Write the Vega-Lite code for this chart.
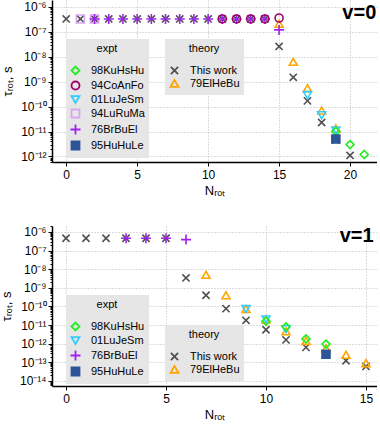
{
"$schema": "https://vega.github.io/schema/vega-lite/v6.json",
"padding": {"left": 0, "top": 0, "right": 0, "bottom": 0},
"spacing": 28,
"config": {
  "font": "Liberation Sans",
  "view": {"stroke": null},
  "axis": {"labelFont": "Liberation Sans", "labelFontSize": 12, "titleFont": "Liberation Sans", "titleFontSize": 13, "titleFontWeight": "normal", "domainColor": "#000000", "domainWidth": 1.5, "tickColor": "#000000", "gridColor": "#bbbbbb", "gridDash": [1, 2], "labelColor": "#000000", "titleColor": "#000000"},
  "legend": {"orient": "none", "fillColor": "#e6e6e6", "padding": 4, "titleFont": "Liberation Sans", "labelFont": "Liberation Sans", "titleFontWeight": "normal", "titleFontSize": 11, "titleAnchor": "middle", "titlePadding": 11, "labelFontSize": 11, "symbolStrokeWidth": 1.8, "symbolSize": 64, "rowPadding": -2, "labelOffset": 10, "titleColor": "#000000", "labelColor": "#000000"}
},
"datasets": {"d": [
{"v":0,"kind":"theory","src":"This work","N":0,"tau":3.3e-7},
{"v":0,"kind":"theory","src":"This work","N":1,"tau":3.3e-7},
{"v":0,"kind":"theory","src":"This work","N":2,"tau":3.3e-7},
{"v":0,"kind":"theory","src":"This work","N":3,"tau":3.3e-7},
{"v":0,"kind":"theory","src":"This work","N":4,"tau":3.3e-7},
{"v":0,"kind":"theory","src":"This work","N":5,"tau":3.3e-7},
{"v":0,"kind":"theory","src":"This work","N":6,"tau":3.3e-7},
{"v":0,"kind":"theory","src":"This work","N":7,"tau":3.3e-7},
{"v":0,"kind":"theory","src":"This work","N":8,"tau":3.3e-7},
{"v":0,"kind":"theory","src":"This work","N":9,"tau":3.3e-7},
{"v":0,"kind":"theory","src":"This work","N":10,"tau":3.3e-7},
{"v":0,"kind":"theory","src":"This work","N":11,"tau":3.3e-7},
{"v":0,"kind":"theory","src":"This work","N":12,"tau":3.3e-7},
{"v":0,"kind":"theory","src":"This work","N":13,"tau":3.3e-7},
{"v":0,"kind":"theory","src":"This work","N":14,"tau":3.3e-7},
{"v":0,"kind":"theory","src":"This work","N":15,"tau":2.6e-8},
{"v":0,"kind":"theory","src":"This work","N":16,"tau":1.5e-9},
{"v":0,"kind":"theory","src":"This work","N":17,"tau":1.7e-10},
{"v":0,"kind":"theory","src":"This work","N":18,"tau":2.3e-11},
{"v":0,"kind":"theory","src":"This work","N":19,"tau":4.5e-12},
{"v":0,"kind":"theory","src":"This work","N":20,"tau":1.1e-12},
{"v":0,"kind":"theory","src":"79ElHeBu","N":15,"tau":2.1e-7},
{"v":0,"kind":"theory","src":"79ElHeBu","N":16,"tau":6.3e-9},
{"v":0,"kind":"theory","src":"79ElHeBu","N":17,"tau":5.5e-10},
{"v":0,"kind":"theory","src":"79ElHeBu","N":18,"tau":7e-11},
{"v":0,"kind":"theory","src":"79ElHeBu","N":19,"tau":1.35e-11},
{"v":0,"kind":"expt","src":"94LuRuMa","N":1,"tau":3.3e-7},
{"v":0,"kind":"expt","src":"94LuRuMa","N":2,"tau":3.3e-7},
{"v":0,"kind":"expt","src":"76BrBuEl","N":2,"tau":3.3e-7},
{"v":0,"kind":"expt","src":"76BrBuEl","N":3,"tau":3.3e-7},
{"v":0,"kind":"expt","src":"76BrBuEl","N":4,"tau":3.3e-7},
{"v":0,"kind":"expt","src":"76BrBuEl","N":5,"tau":3.3e-7},
{"v":0,"kind":"expt","src":"76BrBuEl","N":6,"tau":3.3e-7},
{"v":0,"kind":"expt","src":"76BrBuEl","N":7,"tau":3.3e-7},
{"v":0,"kind":"expt","src":"76BrBuEl","N":8,"tau":3.3e-7},
{"v":0,"kind":"expt","src":"76BrBuEl","N":9,"tau":3.3e-7},
{"v":0,"kind":"expt","src":"76BrBuEl","N":10,"tau":3.3e-7},
{"v":0,"kind":"expt","src":"76BrBuEl","N":11,"tau":3.3e-7},
{"v":0,"kind":"expt","src":"76BrBuEl","N":12,"tau":3.3e-7},
{"v":0,"kind":"expt","src":"76BrBuEl","N":13,"tau":3.3e-7},
{"v":0,"kind":"expt","src":"76BrBuEl","N":14,"tau":3.3e-7},
{"v":0,"kind":"expt","src":"76BrBuEl","N":15,"tau":1.2e-7},
{"v":0,"kind":"expt","src":"94CoAnFo","N":11,"tau":3.3e-7},
{"v":0,"kind":"expt","src":"94CoAnFo","N":12,"tau":3.3e-7},
{"v":0,"kind":"expt","src":"94CoAnFo","N":13,"tau":3.3e-7},
{"v":0,"kind":"expt","src":"94CoAnFo","N":14,"tau":3.3e-7},
{"v":0,"kind":"expt","src":"94CoAnFo","N":15,"tau":3.6e-7},
{"v":0,"kind":"expt","src":"01LuJeSm","N":17,"tau":2.9e-10},
{"v":0,"kind":"expt","src":"01LuJeSm","N":18,"tau":4.5e-11},
{"v":0,"kind":"expt","src":"01LuJeSm","N":19,"tau":1.1e-11},
{"v":0,"kind":"expt","src":"98KuHsHu","N":19,"tau":1e-11},
{"v":0,"kind":"expt","src":"98KuHsHu","N":20,"tau":3e-12},
{"v":0,"kind":"expt","src":"98KuHsHu","N":21,"tau":1.2e-12},
{"v":0,"kind":"expt","src":"95HuHuLe","N":19,"tau":5e-12},
{"v":1,"kind":"theory","src":"This work","N":0,"tau":4.6e-7},
{"v":1,"kind":"theory","src":"This work","N":1,"tau":4.6e-7},
{"v":1,"kind":"theory","src":"This work","N":2,"tau":4.6e-7},
{"v":1,"kind":"theory","src":"This work","N":3,"tau":4.6e-7},
{"v":1,"kind":"theory","src":"This work","N":4,"tau":4.6e-7},
{"v":1,"kind":"theory","src":"This work","N":5,"tau":4.6e-7},
{"v":1,"kind":"theory","src":"This work","N":6,"tau":3.4e-9},
{"v":1,"kind":"theory","src":"This work","N":7,"tau":4e-10},
{"v":1,"kind":"theory","src":"This work","N":8,"tau":7.6e-11},
{"v":1,"kind":"theory","src":"This work","N":9,"tau":1.8e-11},
{"v":1,"kind":"theory","src":"This work","N":10,"tau":5.6e-12},
{"v":1,"kind":"theory","src":"This work","N":11,"tau":1.6e-12},
{"v":1,"kind":"theory","src":"This work","N":12,"tau":6.3e-13},
{"v":1,"kind":"theory","src":"This work","N":13,"tau":2.7e-13},
{"v":1,"kind":"theory","src":"This work","N":14,"tau":1.2e-13},
{"v":1,"kind":"theory","src":"This work","N":15,"tau":6e-14},
{"v":1,"kind":"theory","src":"79ElHeBu","N":7,"tau":5e-9},
{"v":1,"kind":"theory","src":"79ElHeBu","N":8,"tau":4e-10},
{"v":1,"kind":"theory","src":"79ElHeBu","N":9,"tau":7.3e-11},
{"v":1,"kind":"theory","src":"79ElHeBu","N":10,"tau":2e-11},
{"v":1,"kind":"theory","src":"79ElHeBu","N":11,"tau":4.6e-12},
{"v":1,"kind":"theory","src":"79ElHeBu","N":12,"tau":1.4e-12},
{"v":1,"kind":"theory","src":"79ElHeBu","N":13,"tau":5.7e-13},
{"v":1,"kind":"theory","src":"79ElHeBu","N":14,"tau":2.5e-13},
{"v":1,"kind":"theory","src":"79ElHeBu","N":15,"tau":9e-14},
{"v":1,"kind":"expt","src":"76BrBuEl","N":3,"tau":4.6e-7},
{"v":1,"kind":"expt","src":"76BrBuEl","N":4,"tau":4.6e-7},
{"v":1,"kind":"expt","src":"76BrBuEl","N":5,"tau":4.6e-7},
{"v":1,"kind":"expt","src":"76BrBuEl","N":6,"tau":3.9e-7},
{"v":1,"kind":"expt","src":"01LuJeSm","N":9,"tau":7.3e-11},
{"v":1,"kind":"expt","src":"01LuJeSm","N":10,"tau":2e-11},
{"v":1,"kind":"expt","src":"01LuJeSm","N":11,"tau":6e-12},
{"v":1,"kind":"expt","src":"98KuHsHu","N":10,"tau":1.6e-11},
{"v":1,"kind":"expt","src":"98KuHsHu","N":11,"tau":8e-12},
{"v":1,"kind":"expt","src":"98KuHsHu","N":12,"tau":1.8e-12},
{"v":1,"kind":"expt","src":"98KuHsHu","N":13,"tau":9.5e-13},
{"v":1,"kind":"expt","src":"95HuHuLe","N":13,"tau":2.7e-13}
]},
"vconcat": [
{
  "width": 325, "height": 162,
  "layer": [
    {
      "data": {"name": "d"},
      "transform": [{"filter": "datum.v == 0 && datum.kind == 'theory'"}],
      "mark": {"type": "point", "strokeWidth": 1.6, "size": 64, "opacity": 1},
      "encoding": {
        "x": {"field": "N", "type": "quantitative", "scale": {"domain": [-1, 21.9], "nice": false, "zero": false},
              "axis": {"values": [0, 5, 10, 15, 20], "grid": true, "tickSize": 4, "title": "Nᵣₒₜ", "labelPadding": 3, "titlePadding": 4}},
        "y": {"field": "tau", "type": "quantitative", "scale": {"type": "log", "domain": [6e-13, 1.9e-6], "nice": false},
              "axis": {"values": [6e-13,7e-13,8e-13,9e-13,1e-12,2e-12,3e-12,4e-12,5e-12,6e-12,7e-12,8e-12,9e-12,1e-11,2e-11,3e-11,4e-11,5e-11,6e-11,7e-11,8e-11,9e-11,1e-10,2e-10,3e-10,4e-10,5e-10,6e-10,7e-10,8e-10,9e-10,1e-9,2e-9,3e-9,4e-9,5e-9,6e-9,7e-9,8e-9,9e-9,1e-8,2e-8,3e-8,4e-8,5e-8,6e-8,7e-8,8e-8,9e-8,1e-7,2e-7,3e-7,4e-7,5e-7,6e-7,7e-7,8e-7,9e-7,1e-6],
                       "grid": true, "title": "τᵣₒₜ, s", "titlePadding": 6, "labelPadding": 2,
                       "labelExpr": "abs(log(datum.value)/LN10 - round(log(datum.value)/LN10)) > 0.001 ? '' : '10⁻' + (round(-log(datum.value)/LN10) >= 10 ? '¹' : '') + ['⁰','¹','²','³','⁴','⁵','⁶','⁷','⁸','⁹'][round(-log(datum.value)/LN10) % 10]",
                       "tickSize": {"condition": {"test": "abs(log(datum.value)/LN10 - round(log(datum.value)/LN10)) > 0.001", "value": 2}, "value": 4},
                       "gridOpacity": {"condition": {"test": "abs(log(datum.value)/LN10 - round(log(datum.value)/LN10)) > 0.001", "value": 0}, "value": 1}}},
        "stroke": {"field": "src", "type": "nominal", "scale": {"domain": ["This work", "79ElHeBu"], "range": ["#505050", "#ffa500"]},
                   "legend": {"title": "theory", "legendX": 113, "legendY": 39}},
        "shape": {"field": "src", "type": "nominal", "scale": {"domain": ["This work", "79ElHeBu"], "range": ["M-0.9,-0.9L0.9,0.9M-0.9,0.9L0.9,-0.9", "triangle-up"]},
                  "legend": {"title": "theory", "legendX": 113, "legendY": 39}}
      }
    },
    {
      "data": {"name": "d"},
      "transform": [{"filter": "datum.v == 0 && datum.kind == 'expt'"}],
      "mark": {"type": "point", "strokeWidth": 1.6, "size": 64, "opacity": 1},
      "encoding": {
        "x": {"field": "N", "type": "quantitative"},
        "y": {"field": "tau", "type": "quantitative"},
        "stroke": {"field": "src", "type": "nominal", "scale": {"domain": ["98KuHsHu", "94CoAnFo", "01LuJeSm", "94LuRuMa", "76BrBuEl", "95HuHuLe"], "range": ["#22ee22", "#a0006e", "#33ccff", "#d9a6f2", "#a020f0", "#2d5597"]},
                   "legend": {"title": "expt", "legendX": 14, "legendY": 39}},
        "fill": {"field": "src", "type": "nominal", "scale": {"domain": ["98KuHsHu", "94CoAnFo", "01LuJeSm", "94LuRuMa", "76BrBuEl", "95HuHuLe"], "range": ["transparent", "transparent", "transparent", "transparent", "transparent", "#2d5597"]},
                 "legend": {"title": "expt", "legendX": 14, "legendY": 39}},
        "shape": {"field": "src", "type": "nominal", "scale": {"domain": ["98KuHsHu", "94CoAnFo", "01LuJeSm", "94LuRuMa", "76BrBuEl", "95HuHuLe"], "range": ["diamond", "circle", "triangle-down", "square", "M-1.25,0L1.25,0M0,-1.25L0,1.25", "square"]},
                  "legend": {"title": "expt", "legendX": 14, "legendY": 39}}
      }
    },
    {
      "data": {"values": [{"t": "v=0"}]},
      "mark": {"type": "text", "align": "right", "baseline": "middle", "fontSize": 20, "fontWeight": "bold", "font": "Liberation Sans", "color": "#000000"},
      "encoding": {"x": {"datum": 21.85}, "y": {"datum": 5.7e-7}, "text": {"field": "t"}}
    }
  ],
  "resolve": {"scale": {"stroke": "independent", "shape": "independent", "fill": "independent"}}
},
{
  "width": 325, "height": 160,
  "layer": [
    {
      "data": {"name": "d"},
      "transform": [{"filter": "datum.v == 1 && datum.kind == 'theory'"}],
      "mark": {"type": "point", "strokeWidth": 1.6, "size": 64, "opacity": 1},
      "encoding": {
        "x": {"field": "N", "type": "quantitative", "scale": {"domain": [-0.7, 15.55], "nice": false, "zero": false},
              "axis": {"values": [0, 5, 10, 15], "grid": true, "tickSize": 4, "title": "Nᵣₒₜ", "labelPadding": 3, "titlePadding": 4}},
        "y": {"field": "tau", "type": "quantitative", "scale": {"type": "log", "domain": [5.3e-15, 2.1e-6], "nice": false},
              "axis": {"values": [6e-15,7e-15,8e-15,9e-15,1e-14,2e-14,3e-14,4e-14,5e-14,6e-14,7e-14,8e-14,9e-14,1e-13,2e-13,3e-13,4e-13,5e-13,6e-13,7e-13,8e-13,9e-13,1e-12,2e-12,3e-12,4e-12,5e-12,6e-12,7e-12,8e-12,9e-12,1e-11,2e-11,3e-11,4e-11,5e-11,6e-11,7e-11,8e-11,9e-11,1e-10,2e-10,3e-10,4e-10,5e-10,6e-10,7e-10,8e-10,9e-10,1e-9,2e-9,3e-9,4e-9,5e-9,6e-9,7e-9,8e-9,9e-9,1e-8,2e-8,3e-8,4e-8,5e-8,6e-8,7e-8,8e-8,9e-8,1e-7,2e-7,3e-7,4e-7,5e-7,6e-7,7e-7,8e-7,9e-7,1e-6,2e-6],
                       "grid": true, "title": "τᵣₒₜ, s", "titlePadding": 6, "labelPadding": 2,
                       "labelExpr": "abs(log(datum.value)/LN10 - round(log(datum.value)/LN10)) > 0.001 ? '' : '10⁻' + (round(-log(datum.value)/LN10) >= 10 ? '¹' : '') + ['⁰','¹','²','³','⁴','⁵','⁶','⁷','⁸','⁹'][round(-log(datum.value)/LN10) % 10]",
                       "tickSize": {"condition": {"test": "abs(log(datum.value)/LN10 - round(log(datum.value)/LN10)) > 0.001", "value": 2}, "value": 4},
                       "gridOpacity": {"condition": {"test": "abs(log(datum.value)/LN10 - round(log(datum.value)/LN10)) > 0.001", "value": 0}, "value": 1}}},
        "stroke": {"field": "src", "type": "nominal", "scale": {"domain": ["This work", "79ElHeBu"], "range": ["#505050", "#ffa500"]},
                   "legend": {"title": "theory", "legendX": 113, "legendY": 99}},
        "shape": {"field": "src", "type": "nominal", "scale": {"domain": ["This work", "79ElHeBu"], "range": ["M-0.9,-0.9L0.9,0.9M-0.9,0.9L0.9,-0.9", "triangle-up"]},
                  "legend": {"title": "theory", "legendX": 113, "legendY": 99}}
      }
    },
    {
      "data": {"name": "d"},
      "transform": [{"filter": "datum.v == 1 && datum.kind == 'expt'"}],
      "mark": {"type": "point", "strokeWidth": 1.6, "size": 64, "opacity": 1},
      "encoding": {
        "x": {"field": "N", "type": "quantitative"},
        "y": {"field": "tau", "type": "quantitative"},
        "stroke": {"field": "src", "type": "nominal", "scale": {"domain": ["98KuHsHu", "01LuJeSm", "76BrBuEl", "95HuHuLe"], "range": ["#22ee22", "#33ccff", "#a020f0", "#2d5597"]},
                   "legend": {"title": "expt", "legendX": 14, "legendY": 69}},
        "fill": {"field": "src", "type": "nominal", "scale": {"domain": ["98KuHsHu", "01LuJeSm", "76BrBuEl", "95HuHuLe"], "range": ["transparent", "transparent", "transparent", "#2d5597"]},
                 "legend": {"title": "expt", "legendX": 14, "legendY": 69}},
        "shape": {"field": "src", "type": "nominal", "scale": {"domain": ["98KuHsHu", "01LuJeSm", "76BrBuEl", "95HuHuLe"], "range": ["diamond", "triangle-down", "M-1.25,0L1.25,0M0,-1.25L0,1.25", "square"]},
                  "legend": {"title": "expt", "legendX": 14, "legendY": 69}}
      }
    },
    {
      "data": {"values": [{"t": "v=1"}]},
      "mark": {"type": "text", "align": "right", "baseline": "middle", "fontSize": 20, "fontWeight": "bold", "font": "Liberation Sans", "color": "#000000"},
      "encoding": {"x": {"datum": 15.38}, "y": {"datum": 6.3e-7}, "text": {"field": "t"}}
    }
  ],
  "resolve": {"scale": {"stroke": "independent", "shape": "independent", "fill": "independent"}}
}
]
}
